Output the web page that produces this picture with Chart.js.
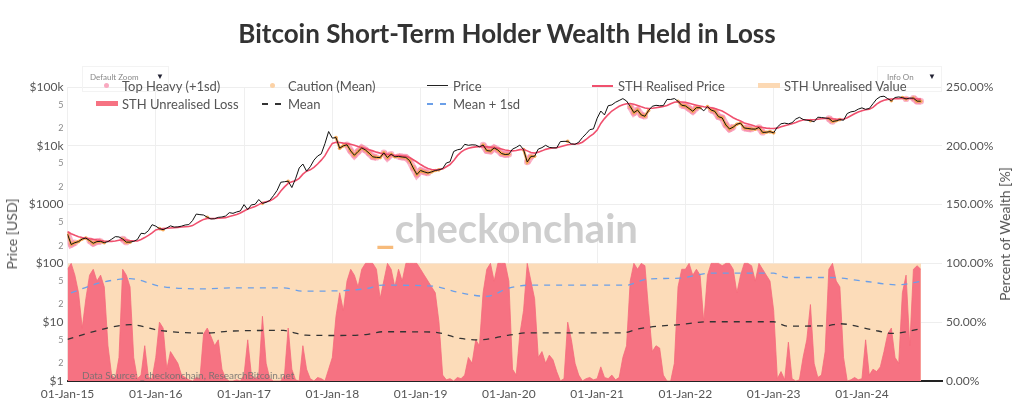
<!DOCTYPE html>
<html><head><meta charset="utf-8">
<script src="https://cdn.jsdelivr.net/npm/chart.js@4.4.1/dist/chart.umd.min.js"></script>
<style>
html,body{margin:0;padding:0;background:#fff;}
#wrap{position:relative;width:1024px;height:404px;overflow:hidden;font-family:Lato,"Open Sans",sans-serif;}
#c{position:absolute;left:0;top:0;}
.t{position:absolute;white-space:nowrap;line-height:16px;}
.lg{font-size:13px;color:#555;}
.sw{position:absolute;}
</style></head><body>
<div id="wrap">
<canvas id="c" width="1024" height="404"></canvas>
<div class="t" id="title" style="left:0;width:1014px;text-align:center;top:17px;font-size:26px;line-height:32px;font-weight:700;color:#333;">Bitcoin Short-Term Holder Wealth Held in Loss</div>
<div class="t" style="left:376px;top:204px;font-size:40px;line-height:48px;font-weight:700;color:rgba(190,190,190,0.75);"><span style="color:rgba(245,170,90,0.8)">_</span>checkonchain</div>
<div class="t" style="left:82px;top:367px;font-size:10px;letter-spacing:-0.05px;color:rgba(110,110,110,0.85);">Data Source: _checkonchain, ResearchBitcoin.net</div>
<div class="t" style="left:12px;top:234px;transform:translate(-50%,-50%) rotate(-90deg);font-size:14px;color:#555;">Price [USD]</div>
<div class="t" style="left:1005px;top:234px;transform:translate(-50%,-50%) rotate(-90deg);font-size:14px;color:#555;">Percent of Wealth [%]</div>
<div class="sw" style="left:82px;top:66px;width:85px;height:24px;border:1px solid #f3f3f3;"></div>
<div class="t" style="left:90px;top:69px;font-size:8px;color:#888;">Default Zoom</div>
<div class="t" style="left:156px;top:68px;font-size:8px;color:#223;">▼</div>
<div class="sw" style="left:877px;top:66px;width:63px;height:24px;border:1px solid #f3f3f3;"></div>
<div class="t" style="left:887px;top:69px;font-size:8px;color:#888;">Info On</div>
<div class="t" style="left:928px;top:68px;font-size:8px;color:#223;">▼</div>

<div class="sw" style="left:104px;top:83px;width:5px;height:5px;border-radius:50%;background:#f9a9c0;"></div>
<div class="t lg" style="left:122px;top:78px;">Top Heavy (+1sd)</div>
<div class="sw" style="left:270px;top:83px;width:5px;height:5px;border-radius:50%;background:#fcd2a6;"></div>
<div class="t lg" style="left:288px;top:78px;">Caution (Mean)</div>
<div class="sw" style="left:427px;top:85px;width:21px;height:1.3px;background:#222;"></div>
<div class="t lg" style="left:453px;top:78px;">Price</div>
<div class="sw" style="left:592px;top:85px;width:21px;height:2px;background:#f0506e;"></div>
<div class="t lg" style="left:618px;top:78px;">STH Realised Price</div>
<div class="sw" style="left:758px;top:83px;width:22px;height:5px;background:#fcd9b4;"></div>
<div class="t lg" style="left:784px;top:78px;">STH Unrealised Value</div>
<div class="sw" style="left:96px;top:101px;width:22px;height:5px;background:#f67282;"></div>
<div class="t lg" style="left:122px;top:96px;">STH Unrealised Loss</div>
<div class="sw" style="left:262px;top:103px;width:21px;height:1.5px;background:repeating-linear-gradient(to right,#333 0 6px,transparent 6px 13px);"></div>
<div class="t lg" style="left:288px;top:96px;">Mean</div>
<div class="sw" style="left:427px;top:103px;width:21px;height:1.5px;background:repeating-linear-gradient(to right,#6b9fe8 0 6px,transparent 6px 13px);"></div>
<div class="t lg" style="left:453px;top:96px;">Mean + 1sd</div>
</div>
<script>
// ---- data (semi-monthly samples: 1st and 15th of each month, from 2015-01-01) ----
const startYear = 2015;
const samplesPerYear = 24;
const yearTicks = [2015,2016,2017,2018,2019,2020,2021,2022,2023,2024];
const priceTicks = [1,2,5,10,20,50,100,200,500,1000,2000,5000,10000,20000,50000,100000];
const pctTicks = [0,50,100,150,200,250];

const price = [
 315,210,225,235,260,270,245,220,235,237,225,235,258,285,282,260,230,230,237,255,325,320,360,455,
 430,390,375,400,435,415,417,430,450,457,535,690,675,665,610,570,575,607,615,640,730,710,750,780,
 1000,820,990,1010,1220,1050,1090,1180,1420,1750,2400,2450,2500,1950,2750,4200,4900,3700,4400,5700,6700,7300,10900,17500,
 13500,13800,9100,10000,10400,8200,6900,8000,9200,8500,7500,6500,6350,6300,7600,6300,7200,6500,6600,6450,6350,5600,4200,3250,
 3800,3600,3450,3600,3800,3900,4100,5100,5350,8000,8550,8800,10600,10200,10400,10300,9600,10300,8300,8150,9200,8500,7400,7100,
 7200,8800,9400,10300,8600,5300,6600,6650,8800,9300,10200,9400,9230,9200,11800,11900,11900,10800,10600,11500,13800,16000,18800,19400,
 29400,39000,33500,48000,49600,55000,59000,63500,57800,46700,36600,40500,33500,31800,39900,47000,48800,48000,48200,61500,61300,63600,57200,48900,
 47700,43100,38700,44500,44400,39300,46300,40600,38500,31300,29800,22600,19300,20800,23300,24300,20100,19700,19300,19200,20500,16900,17000,17400,
 16600,20900,23700,24300,23600,24700,28500,30500,28100,27200,26800,25600,30600,30300,29700,29200,25900,26600,27900,27200,35400,37800,38700,42000,
 44200,41700,43100,51900,62400,68400,69700,63400,58200,66300,67800,66000,62700,64800,64600,57500,57300
];
const realisedPrice = [
 345,320,300,285,275,268,262,258,250,245,240,237,237,240,248,252,250,245,242,240,255,275,300,330,
 370,385,390,395,400,405,410,415,420,425,440,480,520,560,580,580,580,585,590,600,625,650,680,720,
 780,840,880,930,1000,1080,1120,1150,1250,1400,1700,2000,2300,2450,2550,2800,3300,3700,3900,4300,4900,5700,6800,8800,
 11000,11500,11400,11100,10900,10600,10200,9700,9300,9000,8600,8200,7800,7500,7300,7200,7000,6900,6800,6700,6600,6300,5800,5300,
 4800,4400,4100,3950,3900,3950,4050,4400,4800,5600,6800,7800,8600,9100,9400,9600,9700,9700,9600,9500,9300,9100,8800,8500,
 8300,8200,8300,8600,8700,8200,7700,7500,7800,8200,8700,9000,9200,9300,9600,10000,10400,10600,10700,10900,11500,12800,14500,16000,
 18500,24000,29000,34000,39000,43000,47000,50000,52000,52500,51000,48500,46000,44000,43000,43500,44500,45500,46500,48500,52000,55000,56000,55500,
 55000,53000,51000,49000,47500,46000,45000,44500,43000,41000,39000,36000,33000,30000,28000,26500,24500,23500,22500,21500,21000,20500,20000,19800,
 19700,20000,21000,22000,22800,23800,25000,26500,27500,27800,27800,27700,28200,28800,29200,29300,28800,28400,28200,28300,30000,32500,35000,37500,
 39500,41000,42000,45000,51000,56000,59500,61500,62500,63000,63500,64000,64000,63500,63000,62500,62000
];
const lossPct = [
 95,100,90,75,45,70,90,95,85,90,80,30,5,2,20,95,90,80,20,2,5,30,3,2,
 20,50,45,10,25,20,15,5,3,1,0,3,2,40,45,38,30,35,10,2,0,0,1,0,
 5,35,5,2,5,55,15,2,0,0,0,5,45,10,1,0,30,10,2,0,3,2,0,10,
 20,55,75,60,85,95,90,80,95,100,100,100,95,70,85,100,95,80,95,85,100,100,100,100,
 95,90,85,80,75,50,5,1,2,0,3,2,5,20,15,35,30,75,95,100,85,100,100,100,
 85,10,5,40,60,100,85,70,20,25,15,22,18,8,0,2,50,35,15,5,0,2,3,1,
 2,12,3,2,5,1,3,20,30,85,100,95,100,98,60,25,30,28,5,0,0,15,80,95,
 95,100,90,95,90,50,90,100,100,100,98,100,100,95,75,90,100,100,98,85,100,95,90,85,
 60,2,8,1,33,2,0,1,20,35,65,15,3,5,25,95,100,85,80,20,0,1,3,1,
 2,35,5,10,8,12,25,40,45,20,15,75,90,30,95,98,95
];
const valueDates = [2015.0, 2024.67];
const valuePct = [100, 100];
const meanDates = [2015.0,2015.37,2015.71,2016.05,2016.54,2016.88,2017.45,2017.55,2017.7,2018.0,2018.38,2018.57,2019.14,2019.45,2019.67,2020.0,2020.23,2021.3,2021.45,2021.6,2021.94,2022.25,2023.0,2023.15,2023.6,2023.75,2024.1,2024.35,2024.67];
const meanPct = [35.5,43.5,47.9,43,40.7,42.5,43,41.3,39,38.7,39.5,41.9,41.6,36.2,35,39,41,41,44,45.9,48,50.4,50.4,46.7,47,48.7,43.9,40.5,44.4];
const sdDates = [2015.04,2015.37,2015.71,2016.05,2016.54,2016.88,2017.45,2017.67,2018.0,2018.38,2018.57,2019.14,2019.45,2019.75,2020.0,2020.23,2021.33,2021.56,2021.94,2022.28,2023.0,2023.14,2023.64,2024.05,2024.4,2024.66];
const sdPct = [75,83.5,87,80.6,78.3,79.2,79.2,76.4,76.6,78.5,81.5,80.6,75,72,79,81.5,81.5,86.6,87.5,91.7,91.7,88,88,84.6,81.8,84.6];

// ---- build ----
const xs = price.map((_, i) => startYear + i / samplesPerYear);
const pts = (xArr, yArr) => yArr.map((v, i) => ({x: xArr[i], y: v}));
function lookup(dx, dy, x) {
  if (x <= dx[0]) return dy[0];
  for (let i = 1; i < dx.length; i++) {
    if (x <= dx[i]) { const t = (x - dx[i-1]) / (dx[i] - dx[i-1]); return dy[i-1] + t * (dy[i] - dy[i-1]); }
  }
  return dy[dy.length - 1];
}
const cautionPts = xs.map((x, i) => ({x, y: lossPct[i] > lookup(meanDates, meanPct, x) ? price[i] : null}));
const heavyPts = xs.map((x, i) => ({x, y: lossPct[i] > lookup(sdDates, sdPct, x) ? price[i] : null}));

const isDecade = v => Math.abs(Math.log10(v) - Math.round(Math.log10(v))) < 1e-9;
const FONT = 'Lato, "Open Sans", sans-serif';

new Chart(document.getElementById('c'), {
  type: 'line',
  data: { datasets: [
    {label:'STH Unrealised Value', data: pts(valueDates, valuePct), yAxisID:'y2', fill:'origin', backgroundColor:'#fcdcb9', borderWidth:0, pointRadius:0, order:10},
    {label:'STH Unrealised Loss', data: pts(xs, lossPct), yAxisID:'y2', fill:'origin', backgroundColor:'#f67282', borderColor:'#f56a7b', borderWidth:0.8, pointRadius:0, order:9},
    {label:'Mean', data: pts(meanDates, meanPct), yAxisID:'y2', borderColor:'#333', borderWidth:1.3, borderDash:[6,6], pointRadius:0, cubicInterpolationMode:'monotone', order:8},
    {label:'Mean + 1sd', data: pts(sdDates, sdPct), yAxisID:'y2', borderColor:'#6b9fe8', borderWidth:1.3, borderDash:[6,6], pointRadius:0, cubicInterpolationMode:'monotone', order:7},
    {label:'Top Heavy (+1sd)', data: heavyPts, yAxisID:'y', borderColor:'rgba(249,130,165,0.6)', borderWidth:7, pointRadius:3.2, pointBackgroundColor:'rgba(249,130,165,0.6)', pointBorderWidth:0, order:5},
    {label:'Caution (Mean)', data: cautionPts, yAxisID:'y', borderColor:'rgba(246,165,80,0.95)', borderWidth:2.6, pointRadius:1.8, pointBackgroundColor:'rgba(246,165,80,0.95)', pointBorderWidth:0, order:4},
    {label:'STH Realised Price', data: pts(xs, realisedPrice), yAxisID:'y', borderColor:'#f0506e', borderWidth:1.6, pointRadius:0, order:3},
    {label:'Price', data: pts(xs, price), yAxisID:'y', borderColor:'#111', borderWidth:1, pointRadius:0, order:1}
  ]},
  options: {
    responsive:false, animation:false, devicePixelRatio:1, events:[],
    layout:{padding:{top:87,left:0,right:0,bottom:0}},
    plugins:{legend:{display:false}, tooltip:{enabled:false}, title:{display:false}},
    scales:{
      x:{type:'linear', min:2015, max:2024.907,
        afterBuildTicks: s => { s.ticks = yearTicks.map(v => ({value:v})); },
        afterFit: s => { s.height = 23; },
        ticks:{callback: v => '01-Jan-' + String(v).slice(2), maxRotation:0, autoSkip:false, padding:6, color:'#555', font:{family:FONT, size:12}},
        grid:{color:'#efefef', drawTicks:false},
        border:{display:true, color:'#222', width:2}
      },
      y:{type:'logarithmic', position:'left', min:1, max:100000,
        afterBuildTicks: s => { s.ticks = priceTicks.map(v => ({value:v})); },
        afterFit: s => { s.width = 67.5; },
        ticks:{padding:4,
          callback: v => isDecade(v) ? (v >= 10000 ? '$' + (v/1000) + 'k' : '$' + v) : String(Math.round(v / Math.pow(10, Math.floor(Math.log10(v))))),
          font: ctx => ({family:FONT, size: (ctx.tick && isDecade(ctx.tick.value)) ? 12 : 9}),
          color: ctx => (ctx.tick && isDecade(ctx.tick.value)) ? '#555' : '#888'
        },
        grid:{drawTicks:false, color: ctx => (ctx.tick && isDecade(ctx.tick.value)) ? '#eeeeee' : 'rgba(0,0,0,0)'},
        border:{display:false}
      },
      y2:{type:'linear', position:'right', min:0, max:250,
        afterBuildTicks: s => { s.ticks = pctTicks.map(v => ({value:v})); },
        afterFit: s => { s.width = 82; },
        ticks:{padding:4, callback: v => v.toFixed(2) + '%', color:'#555', font:{family:FONT, size:12}},
        grid:{display:false, drawTicks:false},
        border:{display:false}
      }
    }
  }
});
</script>
</body></html>
